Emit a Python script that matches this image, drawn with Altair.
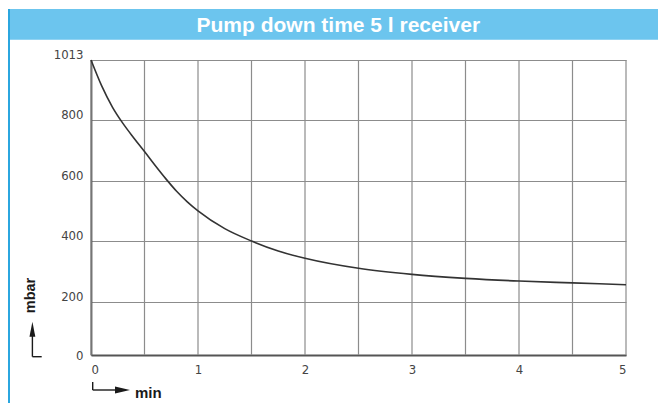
import altair as alt
import pandas as pd

# ---- data ----
minutes = [0, 0.1, 0.2, 0.3, 0.4, 0.5, 0.6, 0.7, 0.8, 0.9, 1.0,
           1.25, 1.5, 1.75, 2.0, 2.5, 3.0, 3.5, 4.0, 4.5, 5.0]
mbar = [1013, 921, 846, 788, 741, 696, 650, 606, 565, 530, 500,
        441, 400, 367, 343, 310, 290, 277, 268, 262, 256]
y_ticks = [0, 200, 400, 600, 800, 1013]
x_labels = [0, 1, 2, 3, 4, 5]
x_grid = [0, 0.5, 1, 1.5, 2, 2.5, 3, 3.5, 4, 4.5, 5]
title_text = "Pump down time 5 l receiver"
x_title = "min"
y_title = "mbar"

df = pd.DataFrame({"t": minutes, "p": mbar})
grid_df = pd.DataFrame({"t": x_grid})

# ---- layout (pixels) ----
W, H = 535, 295
PAD_L, PAD_T = 83, 52
TOTAL_W, TOTAL_H = 650, 395
y_range = [H, 241.7, 181, 120.7, 60, 0]  # piecewise axis as in the original drawing

label_font = "Liberation Sans Narrow, DejaVu Sans Condensed, Liberation Sans, sans-serif"
bold_font = "Liberation Sans, Arial, sans-serif"
grid_color = "#8c8c8c"

x_scale = alt.Scale(domain=[0, 5], nice=False, zero=False)
y_scale = alt.Scale(domain=y_ticks, range=y_range, nice=False, zero=False)

x_axis = alt.Axis(
    values=x_labels, format="d",
    grid=False, ticks=False, tickSize=0,
    domainColor="#555555", domainWidth=1.8,
    labelFont=label_font, labelFontSize=13, labelColor="#444444",
    labelPadding=8, labelBaseline="top",
)
y_axis = alt.Axis(
    values=y_ticks, format="d",
    grid=True, gridColor=grid_color, gridWidth=1.2,
    ticks=False, tickSize=0,
    domainColor="#555555", domainWidth=1.8,
    labelFont=label_font, labelFontSize=13, labelColor="#444444",
    labelPadding=8,
    labelBaseline={"condition": {"test": "datum.value == 0", "value": "middle"}, "value": "alphabetic"},
    labelOffset={"condition": {"test": "datum.value == 0", "value": 0}, "value": -1.5},
)

vgrid = alt.Chart(grid_df).mark_rule(color=grid_color, strokeWidth=1.2).encode(
    x=alt.X("t:Q", scale=x_scale, title=None, axis=x_axis)
)

curve = alt.Chart(df).mark_line(
    color="#333333", strokeWidth=1.6, interpolate="monotone"
).encode(
    x=alt.X("t:Q", scale=x_scale, title=None, axis=x_axis),
    y=alt.Y("p:Q", scale=y_scale, title=None, axis=y_axis),
)

one = pd.DataFrame({"a": [0]})
base = alt.Chart(one)

# title bar
bar = base.mark_rect(color="#6cc5ee").encode(
    x=alt.value(-PAD_L), x2=alt.value(TOTAL_W - PAD_L),
    y=alt.value(9 - 60), y2=alt.value(39.7 - 60),
)
title = base.mark_text(
    text=title_text, color="white", font=bold_font, fontSize=21, fontWeight="bold",
    align="center", baseline="alphabetic",
).encode(x=alt.value(338.3 - 91), y=alt.value(31.7 - 60))

# blue left border line
left_line = base.mark_rule(color="#2ba6df", strokeWidth=2).encode(
    x=alt.value(-PAD_L + 1), y=alt.value(9 - 60), y2=alt.value(TOTAL_H - PAD_T)
)

# axis titles with arrows
arrow_color = "#1a1a1a"
min_text = base.mark_text(
    text=x_title, font=bold_font, fontSize=15, fontWeight="bold", color="#1a1a1a",
    align="left", baseline="alphabetic",
).encode(x=alt.value(135 - 91), y=alt.value(397.5 - 60))
min_v = base.mark_rule(color=arrow_color, strokeWidth=1.4).encode(
    x=alt.value(92.7 - 91), y=alt.value(382 - 60), y2=alt.value(390 - 60)
)
min_h = base.mark_rule(color=arrow_color, strokeWidth=1.4).encode(
    x=alt.value(92.7 - 91), x2=alt.value(118 - 91), y=alt.value(390 - 60)
)
min_head = base.mark_point(
    shape="M-1,-0.47L1,0L-1,0.47Z", size=225, filled=True, color=arrow_color, opacity=1
).encode(x=alt.value(122.5 - 91), y=alt.value(390 - 60))

mbar_text = base.mark_text(
    text=y_title, font=bold_font, fontSize=14.5, fontWeight="bold", color="#1a1a1a",
    align="center", baseline="middle", angle=270,
).encode(x=alt.value(31 - 91), y=alt.value(295.5 - 60))
mbar_v = base.mark_rule(color=arrow_color, strokeWidth=1.4).encode(
    x=alt.value(32.4 - 91), y=alt.value(333 - 60), y2=alt.value(356.7 - 60)
)
mbar_h = base.mark_rule(color=arrow_color, strokeWidth=1.4).encode(
    x=alt.value(32.4 - 91), x2=alt.value(41.7 - 91), y=alt.value(356.7 - 60)
)
mbar_head = base.mark_point(
    shape="M-0.39,1L0,-1L0.39,1Z", size=225, filled=True, color=arrow_color, opacity=1
).encode(x=alt.value(32.4 - 91), y=alt.value(329.2 - 60))

chart = alt.layer(
    bar, title, left_line, vgrid, curve,
    min_text, min_v, min_h, min_head,
    mbar_text, mbar_v, mbar_h, mbar_head,
).properties(
    width=W, height=H,
    autosize=alt.AutoSizeParams(type="none"),
    padding={"left": PAD_L, "top": PAD_T, "right": TOTAL_W - PAD_L - W, "bottom": TOTAL_H - PAD_T - H},
    background="white",
).configure_view(strokeWidth=0)

chart.save("out.html", embed_options={"renderer": "svg", "actions": False})
